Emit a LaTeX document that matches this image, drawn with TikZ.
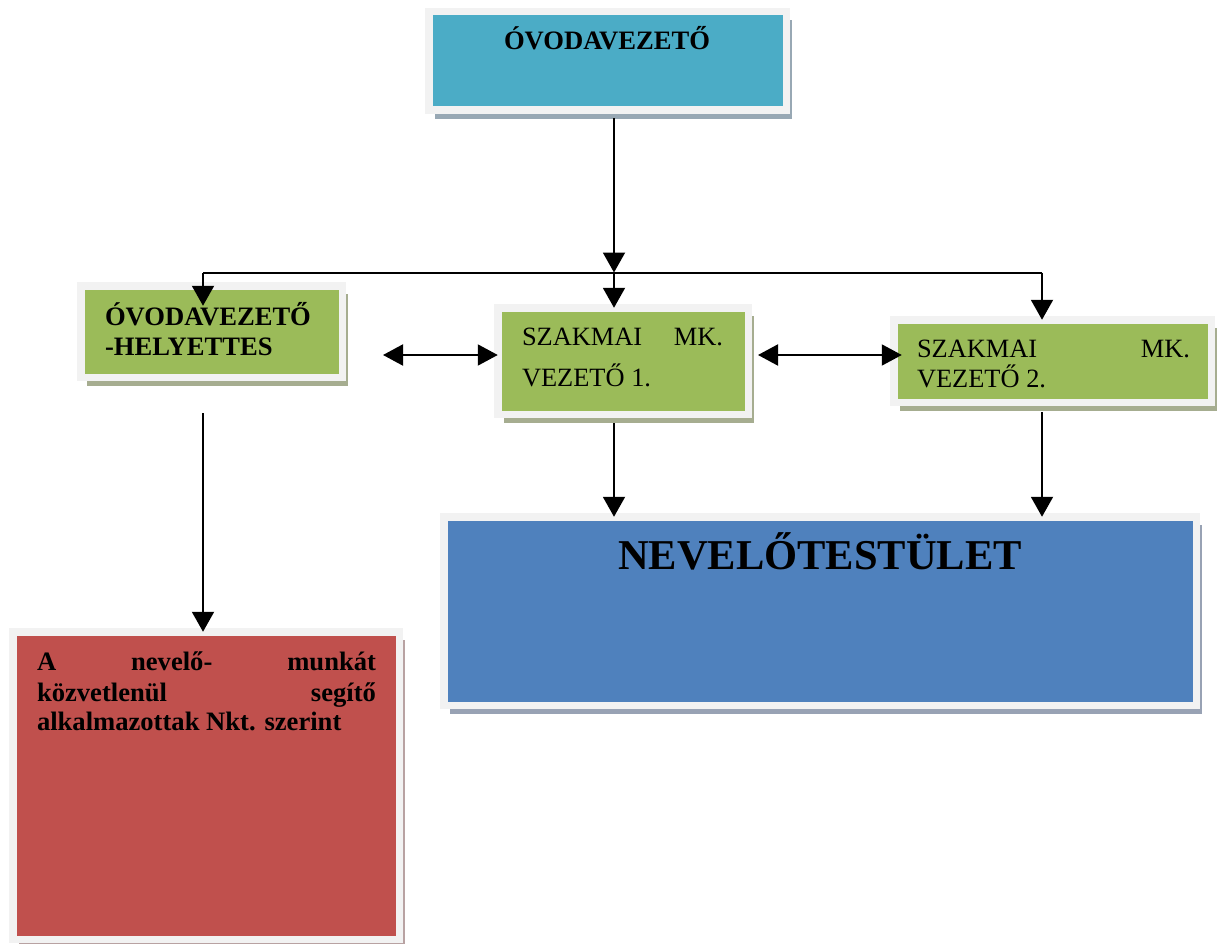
\documentclass[tikz,border=0pt]{standalone}
\usepackage{fontspec}
\setmainfont{Liberation Serif}
\usetikzlibrary{arrows.meta,calc}
\definecolor{framec}{HTML}{F2F2F2}
\definecolor{aquac}{HTML}{4BACC6}
\definecolor{grnc}{HTML}{9BBB59}
\definecolor{bluc}{HTML}{4F81BD}
\definecolor{redc}{HTML}{C0504D}
\definecolor{shaqua}{HTML}{98A8B4}
\definecolor{shgrn}{HTML}{A6AD90}
\definecolor{shblu}{HTML}{98A2B4}
\definecolor{shred}{HTML}{B8A2A2}
\tikzset{
  orgbox/.style={rectangle, draw=framec, line width=7.5pt, fill=#1, inner sep=0pt, outer sep=0pt},
  txt/.style={inner sep=0pt, outer sep=0pt, anchor=base west, font=\fontsize{26.4}{30}\selectfont},
  txtb/.style={txt, font=\bfseries\fontsize{26.6}{30}\selectfont},
  arr/.style={line width=2pt, -{Triangle[length=20pt,width=22pt]}},
  darr/.style={line width=2pt, {Triangle[length=20pt,width=21pt]}-{Triangle[length=20pt,width=21pt]}},
  conn/.style={line width=2pt}
}
\newcommand\orgnode[7]{%
  \fill[#7] (#2-#4/2+6, #3-#5/2+8.5) rectangle (#2+#4/2+6, #3+#5/2+8.5);
  \node[orgbox=#6, minimum width=#4pt, minimum height=#5pt] (#1) at (#2,#3) {};
}
\begin{document}
\begin{tikzpicture}[x=1pt,y=-1pt]
\useasboundingbox (0,0) rectangle (1218,944);
% boxes
\orgnode{top}{607.5}{61}{357.5}{98.5}{aquac}{shaqua}
\orgnode{hely}{211.5}{331.5}{261.5}{91.5}{grnc}{shgrn}
\orgnode{mid}{623}{361}{250.5}{106.5}{grnc}{shgrn}
\orgnode{right}{1052.5}{361}{317.5}{82.5}{grnc}{shgrn}
\orgnode{nev}{820}{611}{752.5}{188.5}{bluc}{shblu}
\orgnode{red}{206}{785.5}{386.5}{307.5}{redc}{shred}
% texts
\node[txtb, anchor=base] (toplbl) at (607,50) {ÓVODAVEZETŐ};
\node[txtb] (h1) at (105,325) {ÓVODAVEZETŐ};
\node[txtb] (h2) at (105,355) {-HELYETTES};
\node[txt] (m1) at (522,345) {\hbox to 201pt{SZAKMAI\hfill MK.}};
\node[txt] (m2) at (522,386) {VEZETŐ 1.};
\node[txt] (r1) at (917,357) {\hbox to 273pt{SZAKMAI\hfill MK.}};
\node[txt] (r2) at (917,387) {VEZETŐ 2.};
\node[inner sep=0pt, anchor=base, font=\bfseries\fontsize{42.5}{48}\selectfont] (nlbl) at (820,569) {NEVELŐTESTÜLET};
\node[txtb] (a1) at (37,670) {\hbox to 339pt{A\hfill nevelő-\hfill munkát}};
\node[txtb] (a2) at (37,701) {\hbox to 339pt{közvetlenül\hfill segítő}};
\node[txtb] (a3) at (37,730) {alkalmazottak Nkt. szerint};
% connector points
\coordinate (j) at (614,272.5);
\coordinate (jl) at (203,272.5);
\coordinate (jr) at (1042,272.5);
\coordinate (dl) at (383,355);
\coordinate (dr) at (758,355);
\coordinate (ls) at (203,413);
% connectors
\draw[arr, shorten <=8pt] (top.south -| j) -- (j);
\draw[conn] (jl) -- (jr);
\draw[arr] (jl) -- ($(hely.north -| jl)+(0,20)$);
\draw[arr] (j) -- (j |- mid.north);
\draw[arr] (jr) -- (jr |- right.north);
\draw[darr] (dl) -- (dl -| mid.west);
\draw[darr] (dr) -- ($(dr -| right.west)+(8,0)$);
\draw[arr, shorten <=9pt] (mid.south -| j) -- (j |- nev.north);
\draw[arr, shorten <=10pt] (right.south -| jr) -- (jr |- nev.north);
\draw[arr] (ls) -- (ls |- red.north);
\end{tikzpicture}
\end{document}
